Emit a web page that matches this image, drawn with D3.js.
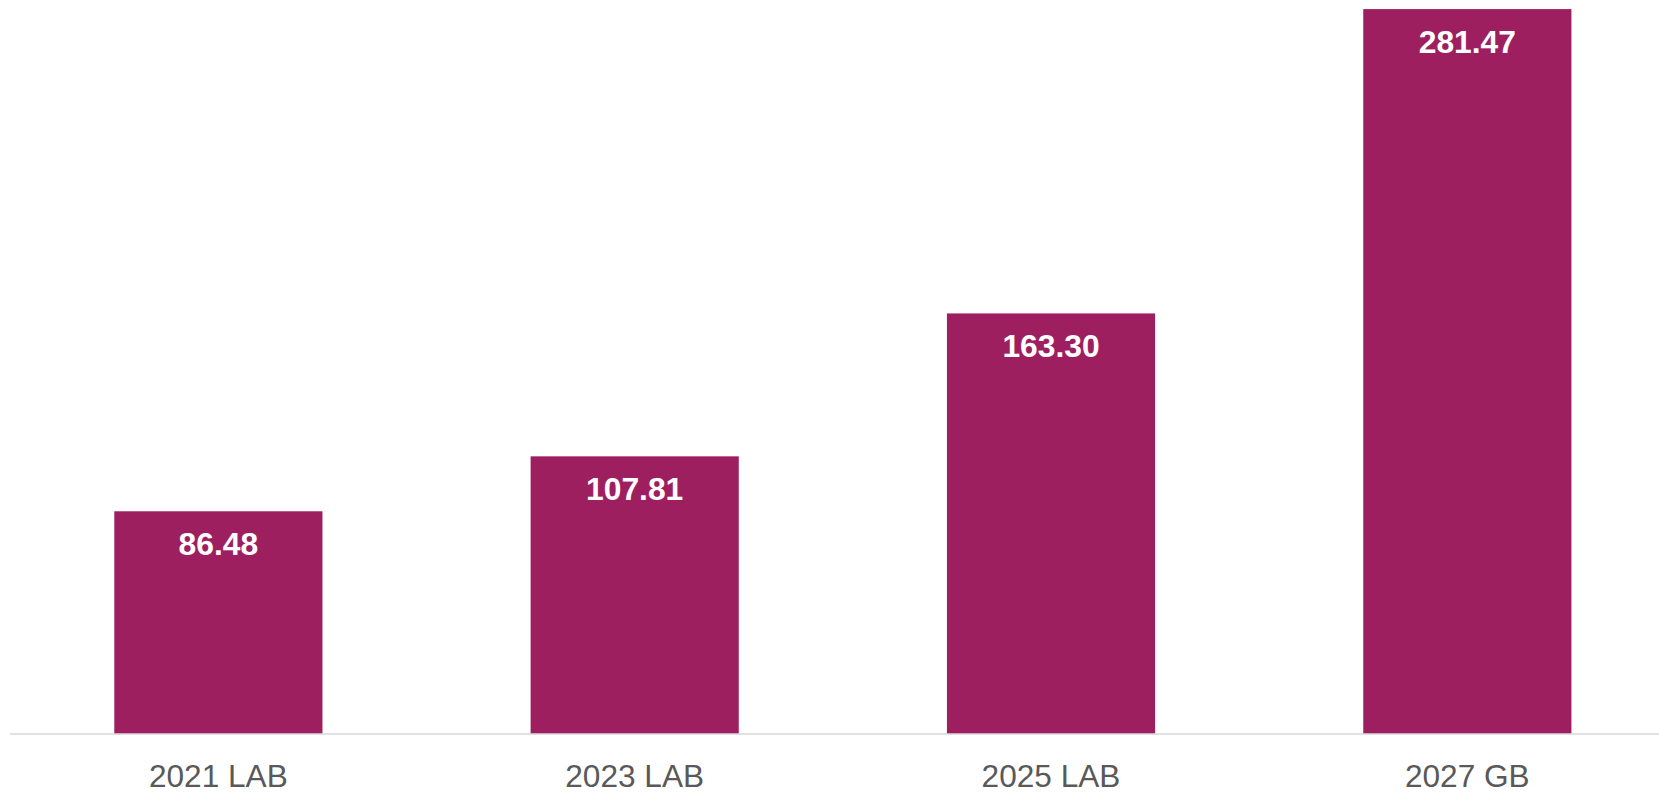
<!DOCTYPE html>
<html>
<head>
<meta charset="utf-8">
<script src="https://cdn.jsdelivr.net/npm/d3@7"></script>
<style>
  html, body { margin: 0; padding: 0; background: #ffffff; }
  svg { display: block; }
</style>
</head>
<body>
<svg id="chart" width="1659" height="792"></svg>
<script>
// Categories and values
const categories = ["2021 LAB", "2023 LAB", "2025 LAB", "2027 GB"];
const values = [86.48, 107.81, 163.30, 281.47];

const width = 1659, height = 792;
const svg = d3.select("#chart");

const x = d3.scaleBand()
  .domain(categories)
  .range([10.2, 1675.5])
  .paddingInner(0.5)
  .paddingOuter(0.25);

const y = d3.scaleLinear()
  .domain([0, 285])
  .range([734, 0]);

const barColor = "#9E1F5F";

// Bars
svg.append("g")
  .selectAll("rect")
  .data(categories)
  .join("rect")
  .attr("x", d => x(d))
  .attr("y", (d, i) => y(values[i]))
  .attr("width", x.bandwidth())
  .attr("height", (d, i) => y(0) - y(values[i]))
  .attr("fill", barColor);

// Value labels inside the top of each bar
svg.append("g")
  .selectAll("text")
  .data(categories)
  .join("text")
  .attr("x", d => x(d) + x.bandwidth() / 2)
  .attr("y", (d, i) => y(values[i]) + 43.5)
  .attr("text-anchor", "middle")
  .attr("fill", "#ffffff")
  .attr("font-family", "'Liberation Sans', Arial, sans-serif")
  .attr("font-weight", "bold")
  .attr("font-size", 31.8)
  .text((d, i) => values[i].toFixed(2));

// Baseline axis
const xAxis = d3.axisBottom(x).tickSize(0).tickPadding(0);
const axisG = svg.append("g")
  .attr("transform", `translate(0,${y(0)})`)
  .call(xAxis);
axisG.select(".domain").remove();
axisG.append("line")
  .attr("x1", 10).attr("x2", 1659)
  .attr("y1", 0).attr("y2", 0)
  .attr("stroke", "#d9d9d9")
  .attr("stroke-width", 1.5);
axisG.selectAll(".tick text")
  .attr("y", 52.5)
  .attr("dy", 0)
  .attr("fill", "#595959")
  .attr("font-family", "'Liberation Sans', Arial, sans-serif")
  .attr("font-size", 31.6);
</script>
</body>
</html>
